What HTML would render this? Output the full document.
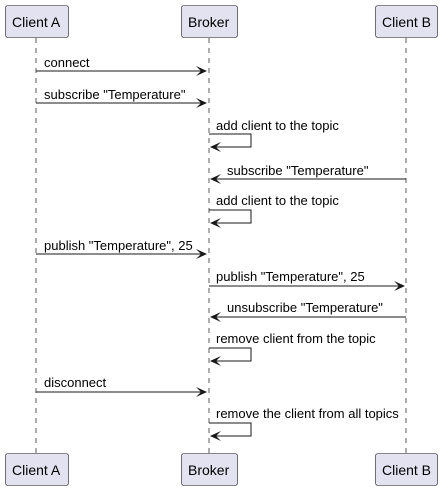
<!DOCTYPE html>
<html><head><meta charset="utf-8"><style>
html,body{margin:0;padding:0;background:#fff;}
svg{display:block;}
text{font-family:"Liberation Sans",sans-serif;font-size:13px;fill:#000;}
.t{font-size:14px;}
</style></head><body>
<svg width="443" height="491" viewBox="0 0 443 491" xmlns="http://www.w3.org/2000/svg">
<g stroke="#181818" stroke-width="0.7" stroke-dasharray="5,5">
<line x1="36" y1="38" x2="36" y2="453"/>
<line x1="209" y1="38" x2="209" y2="453"/>
<line x1="406" y1="38" x2="406" y2="453"/>
</g>
<g fill="#E2E2F0" stroke="#181818" stroke-width="0.6">
<rect x="5.5" y="5.5" width="63" height="32" rx="2.5"/>
<rect x="181.5" y="5.5" width="56" height="32" rx="2.5"/>
<rect x="375.5" y="5.5" width="62" height="32" rx="2.5"/>
<rect x="5.5" y="453.5" width="63" height="32" rx="2.5"/>
<rect x="181.5" y="453.5" width="56" height="32" rx="2.5"/>
<rect x="375.5" y="453.5" width="62" height="32" rx="2.5"/>
</g>
<text class="t" x="12" y="27">Client A</text>
<text class="t" x="188" y="27">Broker</text>
<text class="t" x="382" y="27">Client B</text>
<text class="t" x="12" y="475">Client A</text>
<text class="t" x="188" y="475">Broker</text>
<text class="t" x="382" y="475">Client B</text>
<defs>
<path id="ar" d="M0,0 L-11,-5 L-6,0 L-11,5 Z" fill="#181818"/>
<path id="al" d="M0,0 L11,-5 L6,0 L11,5 Z" fill="#181818"/>
</defs>
<g stroke="#181818" stroke-width="1" fill="none">
<line x1="36" y1="71" x2="206" y2="71"/>
<line x1="36" y1="103" x2="206" y2="103"/>
<polyline points="209,134 251,134 251,147 212,147"/>
<line x1="406" y1="179" x2="212" y2="179"/>
<polyline points="209,210 251,210 251,223 212,223"/>
<line x1="36" y1="254" x2="206" y2="254"/>
<line x1="209" y1="286" x2="403" y2="286"/>
<line x1="406" y1="317" x2="212" y2="317"/>
<polyline points="209,348 251,348 251,361 212,361"/>
<line x1="36" y1="392" x2="206" y2="392"/>
<polyline points="209,423 251,423 251,436 212,436"/>
</g>
<use href="#ar" x="207" y="71"/>
<use href="#ar" x="207" y="103"/>
<use href="#al" x="210" y="147"/>
<use href="#al" x="210" y="179"/>
<use href="#al" x="210" y="223"/>
<use href="#ar" x="207" y="254"/>
<use href="#ar" x="405" y="286"/>
<use href="#al" x="210" y="317"/>
<use href="#al" x="210" y="361"/>
<use href="#ar" x="207" y="392"/>
<use href="#al" x="210" y="436"/>
<text x="44" y="67">connect</text>
<text x="44" y="99">subscribe "Temperature"</text>
<text x="216" y="130">add client to the topic</text>
<text x="227" y="175">subscribe "Temperature"</text>
<text x="216" y="205">add client to the topic</text>
<text x="44" y="250">publish "Temperature", 25</text>
<text x="216" y="281">publish "Temperature", 25</text>
<text x="227" y="312">unsubscribe "Temperature"</text>
<text x="216" y="343">remove client from the topic</text>
<text x="44" y="387">disconnect</text>
<text x="216" y="418">remove the client from all topics</text>
</svg>
</body></html>
